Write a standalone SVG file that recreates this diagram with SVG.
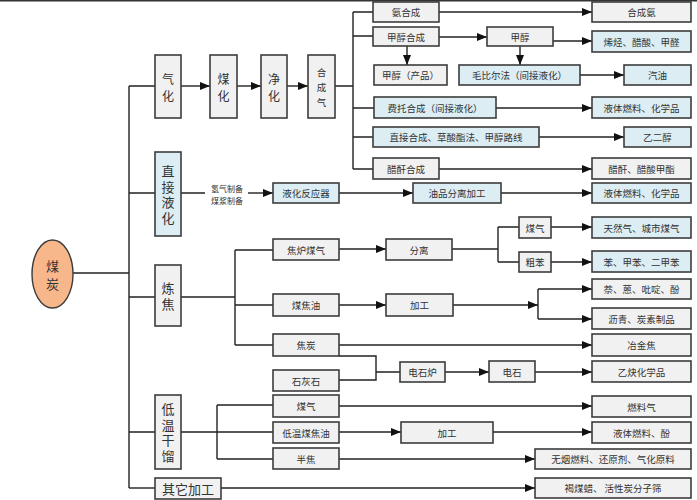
<svg xmlns="http://www.w3.org/2000/svg" width="697" height="500" viewBox="0 0 697 500">
<defs>
<marker id="ah" markerUnits="userSpaceOnUse" markerWidth="10" markerHeight="8" refX="10" refY="4" orient="auto">
<path d="M0,0 L10,4 L0,8 z" fill="#111"/>
</marker>
<style>
.g{fill:#f1f1f1;stroke:#3c3c3c;stroke-width:1.6}
.b{fill:#dcedf3;stroke:#3c3c3c;stroke-width:1.6}
.c{fill:none;stroke:#222;stroke-width:1.4}
.a{fill:none;stroke:#222;stroke-width:1.4;marker-end:url(#ah)}
text{font-family:"Noto Sans CJK SC","Noto Sans",sans-serif;fill:#333;text-anchor:middle;dominant-baseline:central;font-size:9.5px}
.v{font-size:12px}
.L{font-size:13px}
.vt{font-size:13px;writing-mode:vertical-rl;dominant-baseline:auto}
.s{font-size:8px}
</style>
</defs>
<rect x="0" y="0" width="697" height="1.5" fill="#333"/>
<g id="connectors">
<path class="c" d="M73,273 H129 M129,86 V488 M129,86 H155"/>
<path class="a" d="M181,86 H210"/>
<path class="a" d="M237,86 H261"/>
<path class="a" d="M287,86 H308"/>
<path class="c" d="M335,86 H353 M353,12 V169 M353,12 H373 M353,36 H373 M353,108 H374 M353,137 H373 M353,169 H373"/>
<path class="a" d="M439,12 H592"/>
<path class="a" d="M439,37 H487"/>
<path class="a" d="M553,41 H592"/>
<path class="a" d="M407,46 V65"/>
<path class="a" d="M520,46 V65"/>
<path class="a" d="M580,75 H624"/>
<path class="a" d="M496,108 H592"/>
<path class="a" d="M539,137 H624"/>
<path class="a" d="M439,169 H592"/>
<path class="c" d="M129,193 H155 M181,193 H205"/>
<path class="a" d="M248,193 H273"/>
<path class="a" d="M339,193 H413"/>
<path class="a" d="M501,193 H592"/>
<path class="c" d="M129,297 H155 M181,297 H235 M235,250 V345 M235,250 H273 M235,305 H273 M235,345 H273"/>
<path class="a" d="M339,249 H386"/>
<path class="c" d="M452,249 H498 M498,227 V262 M498,227 H519 M498,262 H519"/>
<path class="a" d="M551,227 H592"/>
<path class="a" d="M551,262 H592"/>
<path class="a" d="M339,305 H386"/>
<path class="a" d="M453,305 H538"/>
<path class="c" d="M538,289 V319"/>
<path class="a" d="M538,289 H592"/>
<path class="a" d="M538,319 H592"/>
<path class="a" d="M339,345 H592"/>
<path class="c" d="M339,356 H376 V380 H339 M376,372 H400"/>
<path class="a" d="M445,372 H489"/>
<path class="a" d="M535,372 H592"/>
<path class="c" d="M129,432 H155 M181,432 H217 M217,405 V459 M217,405 H273 M217,432 H273 M217,459 H273"/>
<path class="a" d="M339,406 H592"/>
<path class="a" d="M339,432 H401"/>
<path class="a" d="M493,432 H592"/>
<path class="a" d="M339,459 H535"/>
<path class="c" d="M129,488 H155"/>
<path class="a" d="M221,488 H535"/>
</g>
<g id="coal"><ellipse cx="52.5" cy="274" rx="20.5" ry="34" fill="#f7b78a" stroke="#3c3c3c" stroke-width="1.4"/><text class="L" x="52.5" y="265">煤</text><text class="L" x="52.5" y="283">炭</text></g>
<g id="gasify"><rect class="g" x="155" y="55" width="26" height="63"/><text class="v" x="168" y="78">气</text><text class="v" x="168" y="95">化</text></g>
<g id="coalify"><rect class="g" x="210" y="55" width="27" height="63"/><text class="v" x="223.5" y="78">煤</text><text class="v" x="223.5" y="95">化</text></g>
<g id="purify"><rect class="g" x="261" y="55" width="26" height="63"/><text class="v" x="274" y="78">净</text><text class="v" x="274" y="95">化</text></g>
<g id="syngas"><rect class="g" x="308" y="55" width="27" height="63"/><text x="321.5" y="72">合</text><text x="321.5" y="87">成</text><text x="321.5" y="102">气</text></g>
<g id="ammonia-syn"><rect class="g" x="373" y="2" width="66" height="20"/><text x="406" y="12">氨合成</text></g>
<g id="ammonia"><rect class="g" x="592" y="2" width="99" height="20"/><text x="641.5" y="12">合成氨</text></g>
<g id="methanol-syn"><rect class="g" x="373" y="27" width="66" height="19"/><text x="406" y="36.5">甲醇合成</text></g>
<g id="methanol"><rect class="g" x="487" y="27" width="66" height="19"/><text x="520" y="36.5">甲醇</text></g>
<g id="olefin"><rect class="b" x="592" y="31" width="99" height="21"/><text x="641.5" y="41.5">烯烃、醋酸、甲醛</text></g>
<g id="methanol-prod"><rect class="g" x="374" y="65" width="73" height="20"/><text x="410.5" y="75">甲醇（产品）</text></g>
<g id="mobil"><rect class="b" x="459" y="65" width="121" height="20"/><text x="519.5" y="75">毛比尔法（间接液化）</text></g>
<g id="gasoline"><rect class="b" x="624" y="65" width="67" height="20"/><text x="657.5" y="75">汽油</text></g>
<g id="ft"><rect class="b" x="374" y="97" width="122" height="21"/><text x="435" y="107.5">费托合成（间接液化）</text></g>
<g id="liquid1"><rect class="b" x="592" y="97" width="99" height="21"/><text x="641.5" y="107.5">液体燃料、化学品</text></g>
<g id="direct-syn"><rect class="b" x="373" y="127" width="166" height="20"/><text x="456" y="137">直接合成、草酸酯法、甲醇路线</text></g>
<g id="glycol"><rect class="b" x="624" y="127" width="67" height="20"/><text x="657.5" y="137">乙二醇</text></g>
<g id="anhydride-syn"><rect class="g" x="373" y="158" width="66" height="21"/><text x="406" y="168.5">醋酐合成</text></g>
<g id="anhydride"><rect class="g" x="592" y="158" width="99" height="21"/><text x="641.5" y="168.5">醋酐、醋酸甲酯</text></g>
<g id="direct-liq"><rect class="b" x="155" y="152" width="26" height="84"/><text class="vt" x="168" y="196" letter-spacing="2.5">直接液化</text></g>
<g id="prep-label"><text class="s" x="227" y="188">氢气制备</text><text class="s" x="227" y="200">煤浆制备</text></g>
<g id="reactor"><rect class="b" x="273" y="183" width="66" height="20"/><text x="306" y="193">液化反应器</text></g>
<g id="oil-sep"><rect class="b" x="413" y="183" width="88" height="20"/><text x="457" y="193">油品分离加工</text></g>
<g id="liquid2"><rect class="b" x="592" y="183" width="99" height="20"/><text x="641.5" y="193">液体燃料、化学品</text></g>
<g id="coking"><rect class="g" x="155" y="265" width="26" height="61"/><text class="vt" x="168" y="298" letter-spacing="3">炼焦</text></g>
<g id="coke-gas"><rect class="g" x="273" y="239" width="66" height="21"/><text x="306" y="249.5">焦炉煤气</text></g>
<g id="separate"><rect class="g" x="386" y="239" width="66" height="21"/><text x="419" y="249.5">分离</text></g>
<g id="gas"><rect class="g" x="519" y="217" width="32" height="21"/><text x="535" y="227.5">煤气</text></g>
<g id="natgas"><rect class="b" x="592" y="217" width="99" height="21"/><text x="641.5" y="227.5">天然气、城市煤气</text></g>
<g id="crude-benzene"><rect class="g" x="519" y="252" width="32" height="20"/><text x="535" y="262">粗苯</text></g>
<g id="benzene"><rect class="b" x="592" y="251" width="99" height="21"/><text x="641.5" y="261.5">苯、甲苯、二甲苯</text></g>
<g id="tar"><rect class="g" x="273" y="294" width="66" height="22"/><text x="306" y="305">煤焦油</text></g>
<g id="process1"><rect class="g" x="386" y="294" width="67" height="22"/><text x="419.5" y="305">加工</text></g>
<g id="naph"><rect class="g" x="592" y="279" width="99" height="20"/><text x="641.5" y="289">萘、蒽、吡啶、酚</text></g>
<g id="pitch"><rect class="g" x="592" y="308" width="99" height="21"/><text x="641.5" y="318.5">沥青、炭素制品</text></g>
<g id="coke"><rect class="g" x="273" y="334" width="66" height="22"/><text x="306" y="345">焦炭</text></g>
<g id="met-coke"><rect class="g" x="592" y="334" width="99" height="22"/><text x="641.5" y="345">冶金焦</text></g>
<g id="limestone"><rect class="g" x="273" y="370" width="66" height="21"/><text x="306" y="380.5">石灰石</text></g>
<g id="furnace"><rect class="g" x="400" y="362" width="45" height="20"/><text x="422.5" y="372">电石炉</text></g>
<g id="carbide"><rect class="g" x="489" y="361" width="46" height="21"/><text x="512" y="371.5">电石</text></g>
<g id="acetylene"><rect class="g" x="592" y="361" width="99" height="21"/><text x="641.5" y="371.5">乙炔化学品</text></g>
<g id="lowtemp"><rect class="g" x="155" y="395" width="26" height="74"/><text class="vt" x="168" y="434" letter-spacing="2.5">低温干馏</text></g>
<g id="lt-gas"><rect class="g" x="273" y="395" width="66" height="22"/><text x="306" y="406">煤气</text></g>
<g id="fuel-gas"><rect class="g" x="592" y="396" width="99" height="21"/><text x="641.5" y="406.5">燃料气</text></g>
<g id="lt-tar"><rect class="g" x="273" y="422" width="66" height="21"/><text x="306" y="432.5">低温煤焦油</text></g>
<g id="process2"><rect class="g" x="401" y="422" width="92" height="21"/><text x="447" y="432.5">加工</text></g>
<g id="liquid-phenol"><rect class="g" x="592" y="422" width="99" height="21"/><text x="641.5" y="432.5">液体燃料、酚</text></g>
<g id="semicoke"><rect class="g" x="273" y="448" width="66" height="21"/><text x="306" y="458.5">半焦</text></g>
<g id="smokeless"><rect class="g" x="535" y="449" width="156" height="20"/><text x="613" y="459">无烟燃料、还原剂、气化原料</text></g>
<g id="other"><rect class="g" x="155" y="478" width="66" height="21"/><text class="L" x="188" y="488.5">其它加工</text></g>
<g id="wax"><rect class="g" x="535" y="478" width="156" height="20"/><text x="613" y="488">褐煤蜡、  活性炭分子筛</text></g>
</svg>
